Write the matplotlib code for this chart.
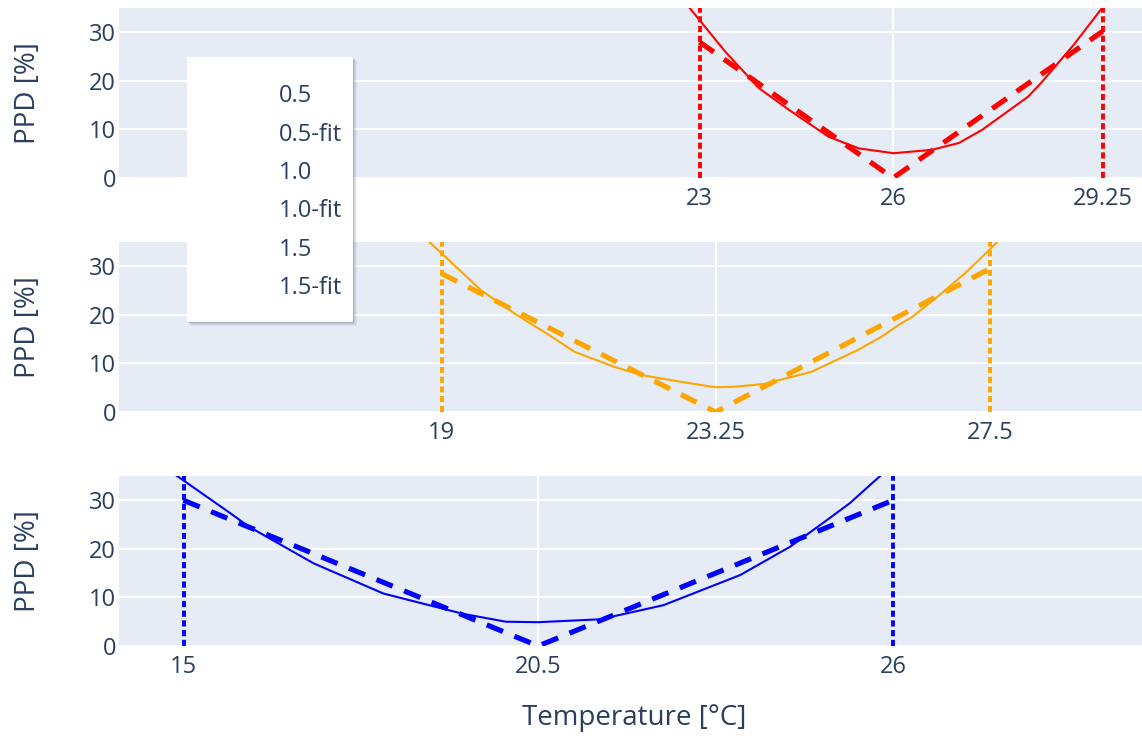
import matplotlib
matplotlib.use("Agg")
import matplotlib.pyplot as plt
from matplotlib.patches import Rectangle

plt.rcParams['font.family'] = ['Open Sans', 'DejaVu Sans']

# --- data ---
# air speed groups (legend names), one panel each
groups = ['0.5', '1.0', '1.5']
colors = ['#ff0000', '#ffa500', '#0000ff']

# comfort limits per panel: lower, optimum, upper temperature
ticks_05 = [23, 26, 29.25]
ticks_10 = [19, 23.25, 27.5]
ticks_15 = [15, 20.5, 26]
tick_labels_05 = ['23', '26', '29.25']
tick_labels_10 = ['19', '23.25', '27.5']
tick_labels_15 = ['15', '20.5', '26']

# PPD curves
temp_05 = [22.81, 23.02, 23.40, 23.92, 24.39, 25.0, 25.47, 26.01, 26.6, 27.02, 27.38, 28.1, 28.31, 28.8, 29.27]
ppd_05 = [35.6, 32.2, 26.0, 18.5, 14.0, 8.5, 6.1, 5.1, 5.8, 7.2, 9.9, 16.8, 19.8, 27.4, 35.5]
temp_10 = [18.81, 19.0, 19.61, 20.13, 20.65, 21.06, 21.68, 22.10, 22.72, 23.24, 23.55, 24.01, 24.74,
           25.46, 25.82, 26.13, 26.29, 26.75, 27.12, 27.48, 27.61]
ppd_10 = [35.0, 32.7, 25.1, 20.3, 16.0, 12.4, 9.3, 7.6, 6.2, 5.1, 5.2, 5.8, 8.3,
          12.8, 15.5, 18.3, 19.5, 24.4, 28.6, 33.2, 34.9]
temp_15 = [14.88, 15.73, 16.01, 17.02, 18.1, 19.34, 20.0, 20.5, 21.46, 22.44, 23.63, 24.4, 24.87, 25.33, 25.8]
ppd_15 = [35.2, 27.3, 24.6, 17.0, 10.8, 6.6, 5.0, 4.9, 5.5, 8.4, 14.6, 20.4, 24.9, 29.4, 35.0]

# V-shaped fits at the three limit temperatures
fit_05 = [28.0, 0.0, 30.2]
fit_10 = [28.5, 0.0, 29.5]
fit_15 = [30.0, 0.0, 30.0]

panels = [
    (temp_05, ppd_05, ticks_05, tick_labels_05, fit_05),
    (temp_10, ppd_10, ticks_10, tick_labels_10, fit_10),
    (temp_15, ppd_15, ticks_15, tick_labels_15, fit_15),
]

font_col = '#2a3f5f'
bg_col = '#E5ECF6'
W, H = 1142, 736

fig = plt.figure(figsize=(W / 100, H / 100), dpi=100)

# panel rectangles in pixels (top, bottom)
panel_px = [(8, 178), (242, 412), (476, 646)]
left_px, right_px = 119, 1142

axes = []
for i, (temp, ppd, ticks, tlabels, fit) in enumerate(panels):
    top, bot = panel_px[i]
    ax = fig.add_axes([left_px / W, 1 - bot / H, (right_px - left_px) / W, (bot - top) / H])
    ax.set_facecolor(bg_col)
    for s in ax.spines.values():
        s.set_visible(False)
    ax.set_xlim(14.0, 29.86)
    ax.set_ylim(0, 35)
    ax.set_yticks([0, 10, 20, 30])
    ax.set_xticks(ticks)
    ax.set_xticklabels(tlabels)
    ax.grid(True, color='white', lw=1.5)
    ax.set_axisbelow(True)
    ax.tick_params(length=0, labelsize=17, labelcolor=font_col)
    ax.tick_params(axis='x', pad=6.5)
    ax.tick_params(axis='y', pad=2)

    c = colors[i]
    ax.plot(temp, ppd, color=c, lw=1.5, zorder=3)
    ax.plot(ticks, fit, color=c, lw=3.7, dashes=(3.4, 2.4), zorder=4)
    for t in (ticks[0], ticks[-1]):
        ax.axvline(t, color=c, lw=2.8, dashes=(1.6, 0.9), zorder=5)

    ax.set_ylabel('PPD [%]', fontsize=20, color=font_col, va='center')
    ax.yaxis.set_label_coords((28 - left_px) / (right_px - left_px), 0.5)
    axes.append(ax)

axes[-1].set_xlabel('Temperature [°C]', fontsize=20, color=font_col, va='center')
axes[-1].xaxis.set_label_coords((634 - left_px) / (right_px - left_px), (646 - 718) / 170)

# legend box (no visible symbols, as in the reference)
lx0, ly0, lx1, ly1 = 187, 57, 353, 322
for k, a in enumerate([0.06, 0.08, 0.10, 0.12]):
    off = 4 - k
    fig.patches.append(Rectangle(((lx0 + off) / W, 1 - (ly1 + off) / H),
                                 (lx1 - lx0) / W, (ly1 - ly0) / H,
                                 transform=fig.transFigure, facecolor='#2a3f5f',
                                 alpha=a, edgecolor='none', zorder=10))
fig.patches.append(Rectangle((lx0 / W, 1 - ly1 / H), (lx1 - lx0) / W, (ly1 - ly0) / H,
                             transform=fig.transFigure, facecolor='white',
                             edgecolor='none', zorder=11))
legend_names = []
for g in groups:
    legend_names += [g, g + '-fit']
for j, name in enumerate(legend_names):
    fig.text(279 / W, 1 - (102.5 + j * 38.3) / H, name, fontsize=17, color=font_col,
             ha='left', va='baseline', zorder=12)

fig.savefig('out.png', dpi=100)
